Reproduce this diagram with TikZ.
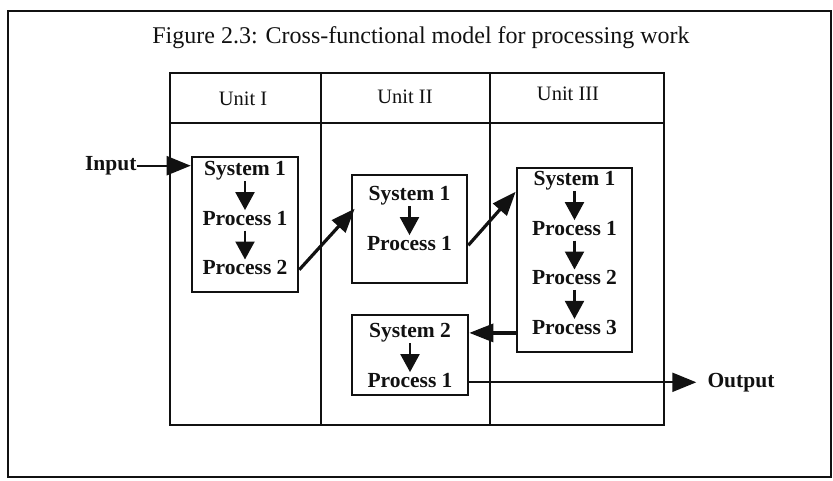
\documentclass[tikz,border=0pt]{standalone}
\usepackage{fontspec}
\setmainfont{Liberation Serif}
\usetikzlibrary{positioning, calc, arrows.meta}
\usepackage{xcolor}
\definecolor{InkBlack}{HTML}{111111}

\begin{document}
\begin{tikzpicture}[
  x=1pt, y=-1pt,
  node distance=29pt,
  frame/.style={draw=InkBlack, line width=2.6pt},
  unitbox/.style={rectangle, draw=InkBlack, line width=2.6pt, inner sep=0pt},
  steplabel/.style={font=\fontsize{21.5}{24}\selectfont\bfseries, text=InkBlack,
    text height=15pt, text depth=5pt, inner sep=0pt},
  headlabel/.style={font=\fontsize{20.5}{24}\selectfont, text=InkBlack},
  iolabel/.style={font=\fontsize{21.5}{24}\selectfont\bfseries, text=InkBlack, inner sep=0pt},
  down/.style={-{Triangle[length=18pt, width=19pt]}, line width=2.2pt, draw=InkBlack},
  flow/.style={-{Triangle[length=24pt, width=18pt]}, line width=3.2pt, draw=InkBlack},
  ioflow/.style={-{Triangle[length=24pt, width=19pt]}, line width=2.2pt, draw=InkBlack}
]
  \useasboundingbox (0,0) rectangle (833,480);

  % frame and caption
  \draw[frame] (8,11) rectangle (831,477);
  \node[font=\fontsize{24}{28}\selectfont, text=InkBlack] (title) at (421,38)
    {Figure 2.3: Cross-functional model for processing work};

  % swim lanes
  \draw[frame] (170,73) rectangle (664,425);
  \draw[frame] (170,123) -- (664,123);
  \draw[frame] (321,73) -- (321,425);
  \draw[frame] (490,73) -- (490,425);
  \node[headlabel] (u1) at (243,99) {Unit I};
  \node[headlabel] (u2) at (405,97) {Unit II};
  \node[headlabel] (u3) at (568,94) {Unit III};

  % unit I
  \node[unitbox, minimum width=106pt, minimum height=135pt] (A) at (245,224.5) {};
  \node[steplabel, below=5pt of A.north] (a1) {System 1};
  \node[steplabel, below=of a1] (a2) {Process 1};
  \node[steplabel, below=of a2] (a3) {Process 2};

  % unit II
  \node[unitbox, minimum width=115pt, minimum height=108pt] (B) at (409.5,229) {};
  \node[steplabel, below=12pt of B.north] (b1) {System 1};
  \node[steplabel, below=of b1] (b2) {Process 1};

  \node[unitbox, minimum width=116pt, minimum height=80pt] (D) at (410,355) {};
  \node[steplabel, below=9pt of D.north] (d1) {System 2};
  \node[steplabel, below=of d1] (d2) {Process 1};

  % unit III
  \node[unitbox, minimum width=115pt, minimum height=184pt] (C) at (574.5,260) {};
  \node[steplabel, below=4pt of C.north] (c1) {System 1};
  \node[steplabel, below=of c1] (c2) {Process 1};
  \node[steplabel, below=of c2] (c3) {Process 2};
  \node[steplabel, below=of c3] (c4) {Process 3};

  \foreach \p/\q in {a1/a2, a2/a3, b1/b2, c1/c2, c2/c3, c3/c4, d1/d2}
    \draw[down] (\p.south) -- (\q.north);

  % hand-offs between units
  \coordinate (inA) at ($(A.north west)+(0,10)$);
  \node[iolabel, left=54pt of inA] (input) {Input};
  \draw[ioflow] (input.east) -- (inA);

  \draw[flow] (A.east |- a3) -- ($(B.north west)+(4,35)$);
  \draw[flow] (B.east |- b2) -- ($(C.north west)+(0,25)$);
  \draw[flow] (C.west |- d1) -- (D.east |- d1);

  \coordinate (outD) at (D.east |- d2);
  \coordinate (outtip) at ($(outD)+(227,0)$);
  \node[iolabel, right=11pt of outtip] (output) {Output};
  \draw[ioflow] (outD) -- (outtip);
\end{tikzpicture}
\end{document}
